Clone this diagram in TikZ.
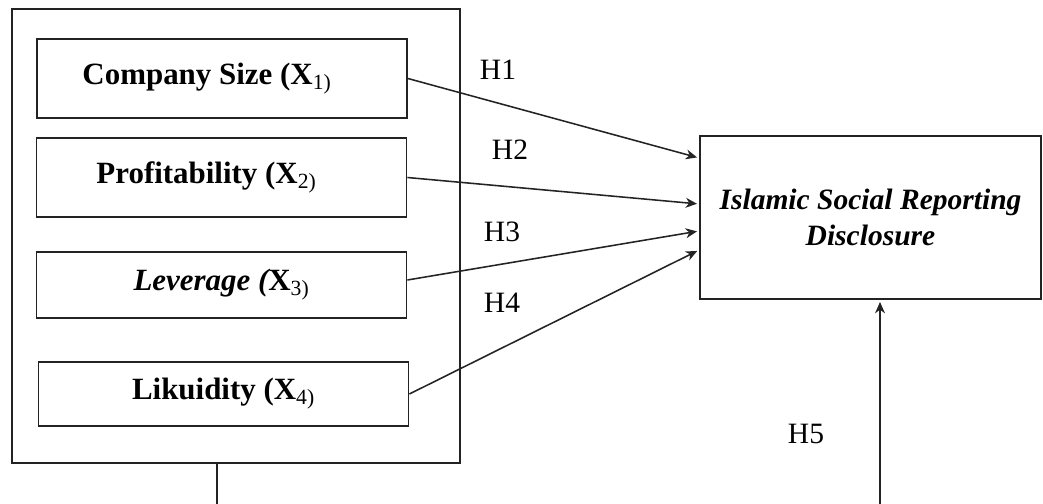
\documentclass[tikz,border=0pt]{standalone}
\usepackage{fontspec}
\setmainfont{Liberation Serif}
\usepackage{tikz}
\usetikzlibrary{arrows.meta,positioning}
\definecolor{cLine}{RGB}{35,35,35}
\newcommand{\subx}[1]{\textsubscript{\mdseries #1)}}
\tikzset{
  basebox/.style={rectangle,draw=cLine,line width=1.2pt,align=center,inner sep=0pt},
  varnode/.style={basebox,font=\fontsize{22}{26}\selectfont\bfseries,minimum width=9.25cm},
  groupnode/.style={basebox,line width=1.3pt,minimum width=11.2cm,minimum height=11.35cm},
  depnode/.style={basebox,font=\fontsize{21}{25}\selectfont\bfseries\itshape,
                  minimum width=8.525cm,minimum height=4.075cm},
  hlabel/.style={font=\fontsize{21}{25}\selectfont,inner sep=0pt},
  arr/.style={-{Stealth[length=8pt,width=7pt,inset=2.5pt]},line width=1.1pt,color=cLine,shorten >=1.5pt},
  lnk/.style={line width=1.1pt,color=cLine}
}
\begin{document}
\begin{tikzpicture}[x=0.025cm,y=-0.025cm]
  \useasboundingbox (0,0) rectangle (1043,504);
  \node[groupnode] (grp) at (236,236) {};
  \node[varnode,minimum height=1.975cm] (size) at (222,78.5) {Company Size (X\subx{1}\hspace*{0.75cm}};
  \node[varnode,minimum height=1.975cm] (prof) at (221.5,177.5) {Profitability (X\subx{2}\hspace*{0.75cm}};
  \node[varnode,minimum height=1.65cm] (lev) at (221.5,285) {{\itshape Leverage (}X\subx{3}};
  \node[varnode,minimum height=1.6cm] (liq) at (223.5,394) {Likuidity (X\subx{4}};
  \node[depnode] (isr) at (870.5,217.5) {Islamic Social Reporting\\Disclosure};

  \node[hlabel] (h1) at (498,70) {H1};
  \node[hlabel] (h2) at (510,150) {H2};
  \node[hlabel] (h3) at (502,232) {H3};
  \node[hlabel] (h4) at (502,303) {H4};
  \node[hlabel] (h5) at (806,434) {H5};

  \draw[arr] (size.east) -- ([yshift=1.4875cm]isr.west);
  \draw[arr] (prof.east) -- ([yshift=0.3375cm]isr.west);
  \draw[arr] ([yshift=0.125cm]lev.east) -- ([yshift=-0.3375cm]isr.west);
  \draw[arr] (liq.east) -- ([yshift=-0.8125cm]isr.west);

  \coordinate (lend) at (217,504);
  \coordinate (rend) at (880,504);
  \draw[lnk] (grp.south -| lend) -- (lend);
  \draw[arr] (rend) -- (rend |- isr.south);
\end{tikzpicture}
\end{document}
